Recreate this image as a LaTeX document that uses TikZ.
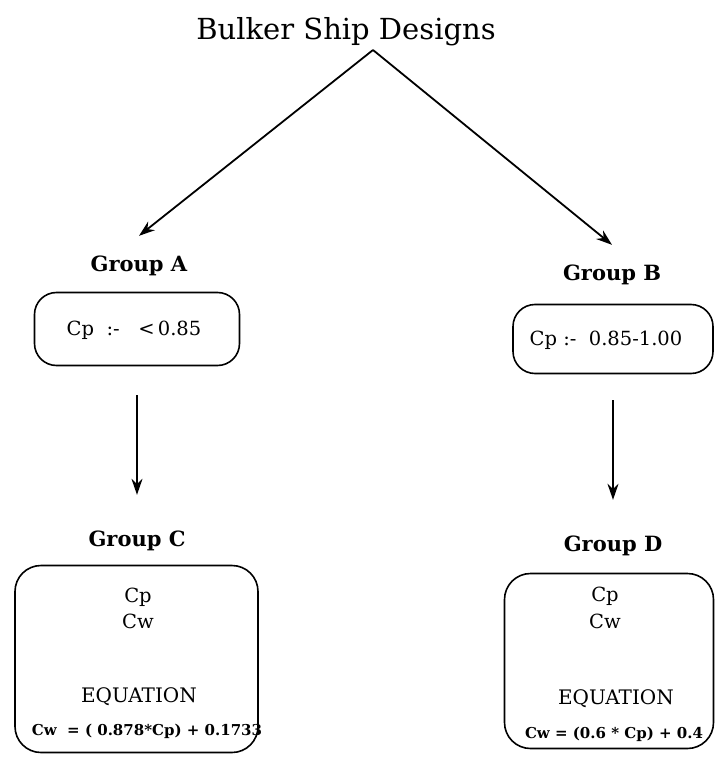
\documentclass[tikz,border=0pt]{standalone}
\usepackage{fontspec}
\setmainfont{DejaVu Serif}
\usetikzlibrary{arrows.meta}
\begin{document}
\begin{tikzpicture}[x=1pt,y=-1pt,
  lbl/.style={inner sep=0pt,anchor=center},
  grouplbl/.style={lbl,font=\fontsize{21}{24}\selectfont\bfseries},
  rangebox/.style={draw,line width=1.6pt,rounded corners=22pt,inner sep=0pt},
  eqbox/.style={draw,line width=1.6pt,rounded corners=26pt,inner sep=0pt},
  boxtxt/.style={lbl,font=\fontsize{19.5}{22}\selectfont},
  formula/.style={lbl,font=\fontsize{15}{17}\selectfont\bfseries},
  arr/.style={line width=1.8pt,-{Stealth[length=16pt,width=11pt]}}
]
\useasboundingbox (0,0) rectangle (716,759);

% title and fork point
\node[lbl,font=\fontsize{29}{34}\selectfont] (title) at (346,32) {Bulker Ship Designs};
\coordinate (apex) at (373,50);

% group labels
\node[grouplbl] (ga) at (139,266) {Group A};
\node[grouplbl] (gb) at (612,275) {Group B};
\node[grouplbl] (gc) at (137,541) {Group C};
\node[grouplbl] (gd) at (613,546) {Group D};

% range boxes
\node[rangebox,minimum width=205pt,minimum height=73pt] (ba) at (137,329) {};
\node[boxtxt] (ta) at (134,330) {Cp\ \ :-\ \ \ {<}\,0.85};
\node[rangebox,minimum width=200pt,minimum height=69pt] (bb) at (613,339) {};
\node[boxtxt] (tb) at (606,340) {Cp :-\ \ 0.85-1.00};

% equation boxes
\node[eqbox,minimum width=243pt,minimum height=187pt] (bc) at (136.5,659) {};
\node[boxtxt] (cpc) at (138,597) {Cp};
\node[boxtxt] (cwc) at (138,621) {Cw};
\node[boxtxt,font=\fontsize{20}{23}\selectfont] (eqc) at (139,697) {EQUATION};
\node[formula] (fc) at (147,731) {Cw\ \ = ( 0.878*Cp) + 0.1733};

\node[eqbox,minimum width=209pt,minimum height=175pt] (bd) at (609,661) {};
\node[boxtxt] (cpd) at (605,596) {Cp};
\node[boxtxt] (cwd) at (605,621) {Cw};
\node[boxtxt,font=\fontsize{20}{23}\selectfont] (eqd) at (616,699) {EQUATION};
\node[formula] (fd) at (614,734) {Cw = (0.6 * Cp) + 0.4};

% connectors
\draw[arr] (apex) -- ([yshift=20pt]ga.north);
\draw[arr] (apex) -- ([yshift=20pt]gb.north);
\draw[arr] ([yshift=-29pt]ba.south) -- ([yshift=36pt]gc.north);
\draw[arr] ([yshift=-26pt]bb.south) -- ([yshift=36pt]gd.north);
\end{tikzpicture}
\end{document}
